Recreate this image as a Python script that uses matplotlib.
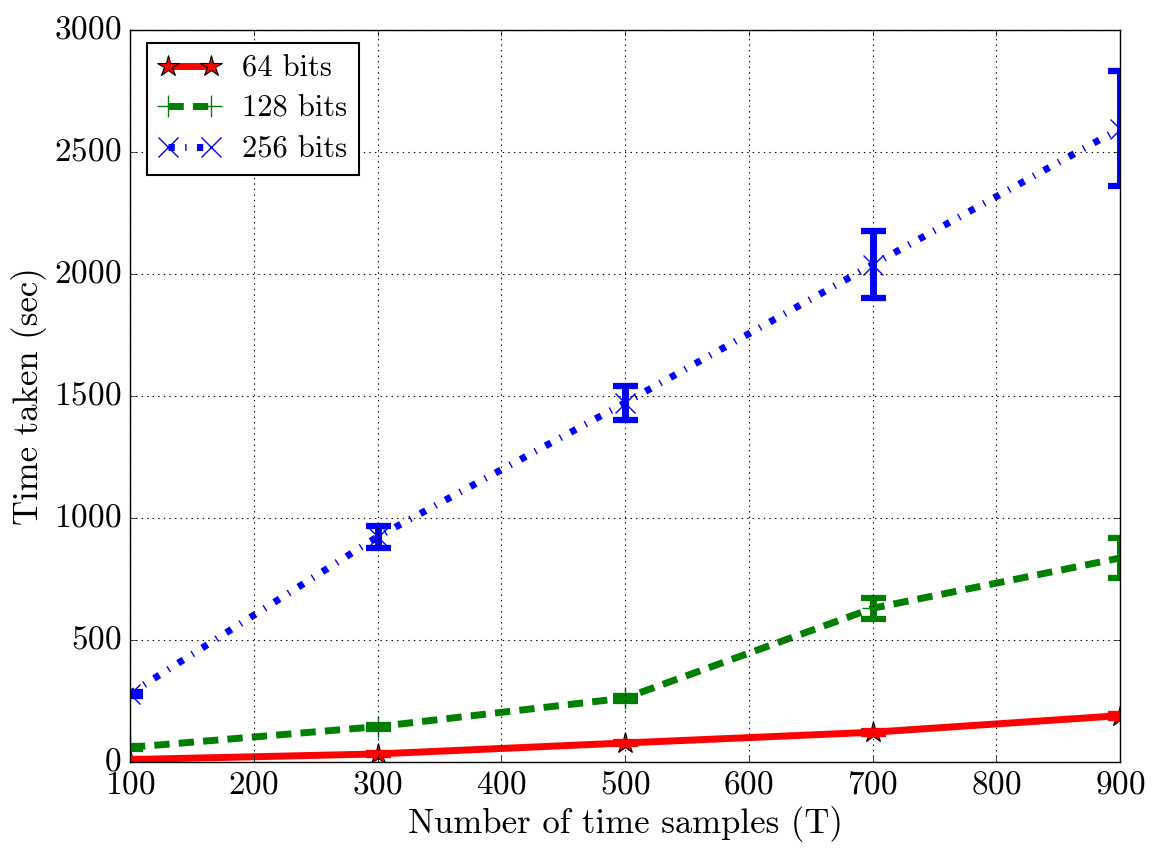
import matplotlib
matplotlib.use("Agg")
import matplotlib.pyplot as plt

samples = [100, 300, 500, 700, 900]
t64 = [10, 33, 78, 122, 190]
e64 = [3, 4, 5, 6, 8]
t128 = [60, 145, 262, 630, 836]
e128 = [5, 8, 10, 42, 80]
t256 = [280, 923, 1472, 2038, 2596]
e256 = [8, 45, 70, 138, 235]
labels = ["64 bits", "128 bits", "256 bits"]

plt.style.use("classic")
plt.rcParams["font.family"] = ["cmr10", "DejaVu Serif"]
plt.rcParams["mathtext.fontset"] = "cm"
plt.rcParams["axes.formatter.use_mathtext"] = True
plt.rcParams["lines.scale_dashes"] = False

W, H = 1159, 859
fig = plt.figure(figsize=(W / 100, H / 100), dpi=100, facecolor="white")
ax = fig.add_axes([130 / W, 1 - 762 / H, 990 / W, 732 / H])

lw = 5
styles = [
    dict(color="red", ls="-", marker="*", ms=16, mfc="red", mec="black", mew=0.8),
    dict(color="green", ls=(0, (11, 6.6)), marker="+", ms=16, mec="green", mew=1),
    dict(color="blue", ls=(0, (4.5, 7.5, 1, 7.5)), marker="x", ms=15, mec="blue", mew=1),
]
series = [(t64, e64), (t128, e128), (t256, e256)]
for (vals, errs), st, lab in zip(series, styles, labels):
    ax.plot(samples, vals, linestyle=st["ls"], color=st["color"], linewidth=lw,
            marker=st["marker"], markersize=st["ms"],
            markerfacecolor=st.get("mfc", st["color"]), markeredgecolor=st["mec"],
            markeredgewidth=st["mew"], label=lab, dash_capstyle="butt")
    ax.errorbar(samples, vals, yerr=errs, fmt="none", ecolor=st["color"],
                elinewidth=lw, capsize=9, capthick=4.5)

ax.set_xlim(100, 900)
ax.set_ylim(0, 3000)
ax.set_xticks(range(100, 901, 100))
ax.set_yticks(range(0, 3001, 500))
ax.grid(True, color="black", linestyle=":", linewidth=0.8)
ax.tick_params(labelsize=24, pad=6)
ax.set_xlabel("Number of time samples (T)", fontsize=25)
ax.set_ylabel("Time taken (sec)", fontsize=25)

leg = ax.legend(loc="upper left", bbox_to_anchor=(17 / 990, 1 - 13 / 732),
                borderaxespad=0, numpoints=2, fontsize=22, frameon=True,
                fancybox=False, handlelength=2.0, handletextpad=0.7,
                labelspacing=0.42, borderpad=0.4)
leg.get_frame().set_edgecolor("black")
leg.get_frame().set_linewidth(1.5)

fig.savefig("out.png", dpi=100, facecolor="white")
